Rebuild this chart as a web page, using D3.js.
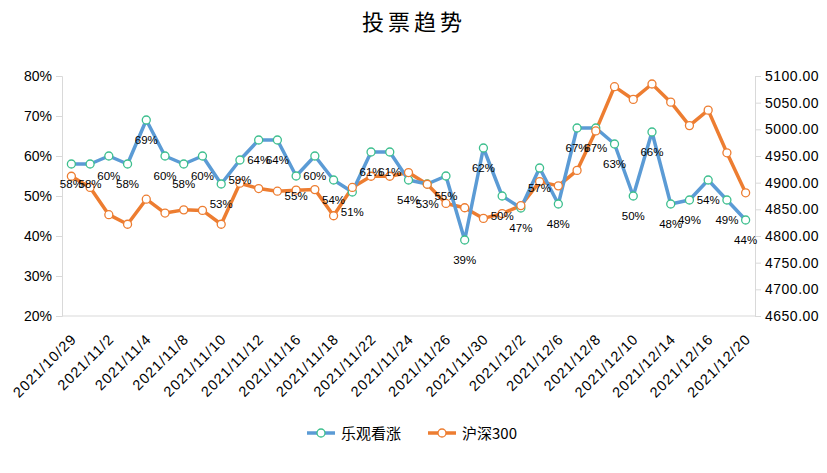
<!DOCTYPE html>
<html>
<head>
<meta charset="utf-8">
<script src="https://cdn.jsdelivr.net/npm/d3@7"></script>
<style>
  body { margin: 0; background: #fff; }
  svg { display: block; }
</style>
</head>
<body>
<svg id="chart" width="827" height="473"></svg>
<script>
const dates = ["2021/10/29","2021/11/1","2021/11/2","2021/11/3","2021/11/4","2021/11/5","2021/11/8","2021/11/9","2021/11/10","2021/11/11","2021/11/12","2021/11/15","2021/11/16","2021/11/17","2021/11/18","2021/11/19","2021/11/22","2021/11/23","2021/11/24","2021/11/25","2021/11/26","2021/11/29","2021/11/30","2021/12/1","2021/12/2","2021/12/3","2021/12/6","2021/12/7","2021/12/8","2021/12/9","2021/12/10","2021/12/13","2021/12/14","2021/12/15","2021/12/16","2021/12/17","2021/12/20"];
const bullish = [58,58,60,58,69,60,58,60,53,59,64,64,55,60,54,51,61,61,54,53,55,39,62,50,47,57,48,67,67,63,50,66,48,49,54,49,44];
const hs300 = [4912,4891,4840,4822,4869,4843,4849,4848,4822,4899,4889,4884,4886,4887,4838,4891,4912,4912,4919,4897,4861,4853,4833,4842,4857,4902,4894,4923,4997,5080,5056,5085,5051,5007,5036,4956,4881];
const leftTicks = [20,30,40,50,60,70,80];
const rightTicks = [4650,4700,4750,4800,4850,4900,4950,5000,5050,5100];
const seriesNames = ["乐观看涨","沪深300"];

const svg = d3.select("#chart");
const L = 62, R = 755, T = 76, B = 316;
const blue = "#5b9bd5", orange = "#ed7d31", teal = "#3dbf8e", axisCol = "#d9d9d9";

const x = d3.scaleBand().domain(dates).range([L, R]);
const xc = d => x(d) + x.bandwidth() / 2;
const yL = d3.scaleLinear().domain([20, 80]).range([B, T]);
const yR = d3.scaleLinear().domain([4650, 5100]).range([B, T]);

// title
svg.append("text").attr("x", 414).attr("y", 30).attr("text-anchor", "middle")
  .attr("font-family", "'Noto Sans CJK SC'").attr("font-size", 22).attr("letter-spacing", 4)
  .attr("fill", "#000").text("投票趋势");

// left axis
const gl = svg.append("g").attr("transform", `translate(${L},0)`)
  .call(d3.axisLeft(yL).tickValues(leftTicks).tickFormat(d => d + "%").tickSize(6).tickPadding(4));
gl.select(".domain").attr("stroke", axisCol);
gl.selectAll(".tick line").attr("stroke", axisCol);
gl.selectAll("text").attr("font-family", "Arial, 'Liberation Sans'").attr("font-size", 14).attr("fill", "#000");

// right axis
const gr = svg.append("g").attr("transform", `translate(${R},0)`)
  .call(d3.axisRight(yR).tickValues(rightTicks).tickFormat(d3.format(".2f")).tickSize(6).tickPadding(4));
gr.select(".domain").attr("stroke", axisCol);
gr.selectAll(".tick line").attr("stroke", axisCol);
gr.selectAll("text").attr("font-family", "Arial, 'Liberation Sans'").attr("font-size", 14).attr("fill", "#000").attr("letter-spacing", 0.5);

// bottom axis
const gb = svg.append("g").attr("transform", `translate(0,${B})`)
  .call(d3.axisBottom(x).tickValues(dates.filter((d, i) => i % 2 === 0)).tickSize(0).tickPadding(0));
gb.select(".domain").attr("stroke", axisCol).attr("d", `M${L},0H${R}`);
gb.selectAll(".tick text")
  .attr("font-family", "Arial, 'Liberation Sans'").attr("font-size", 14.5).attr("fill", "#000")
  .attr("text-anchor", "end").attr("dy", 0).attr("y", 0)
  .attr("transform", "translate(6,24) rotate(-45)")
  .attr("letter-spacing", 1);

// lines
const lineB = d3.line().x((d, i) => xc(dates[i])).y(d => yL(d));
const lineO = d3.line().x((d, i) => xc(dates[i])).y(d => yR(d));

svg.append("path").datum(hs300).attr("d", lineO).attr("fill", "none")
  .attr("stroke", orange).attr("stroke-width", 3.5).attr("stroke-linejoin", "round");
svg.append("path").datum(bullish).attr("d", lineB).attr("fill", "none")
  .attr("stroke", blue).attr("stroke-width", 3.5).attr("stroke-linejoin", "round");

svg.append("g").selectAll("circle").data(bullish).join("circle")
  .attr("cx", (d, i) => xc(dates[i])).attr("cy", d => yL(d)).attr("r", 4)
  .attr("fill", "#fff").attr("stroke", teal).attr("stroke-width", 1.3);
svg.append("g").selectAll("circle").data(hs300).join("circle")
  .attr("cx", (d, i) => xc(dates[i])).attr("cy", d => yR(d)).attr("r", 4)
  .attr("fill", "#fff").attr("stroke", orange).attr("stroke-width", 1.3);

// data labels
svg.append("g").selectAll("text").data(bullish).join("text")
  .attr("x", (d, i) => xc(dates[i])).attr("y", d => yL(d) + 24)
  .attr("text-anchor", "middle").attr("font-family", "Arial, 'Liberation Sans'")
  .attr("font-size", 11.5).attr("fill", "#000").text(d => d + "%");

// legend
const lg = svg.append("g");
const items = [{name: seriesNames[0], c: blue, m: teal, x: 307}, {name: seriesNames[1], c: orange, m: orange, x: 428}];
items.forEach(it => {
  lg.append("line").attr("x1", it.x).attr("x2", it.x + 28).attr("y1", 433).attr("y2", 433)
    .attr("stroke", it.c).attr("stroke-width", 3.5);
  lg.append("circle").attr("cx", it.x + 14).attr("cy", 433).attr("r", 4)
    .attr("fill", "#fff").attr("stroke", it.m).attr("stroke-width", 1.3);
  lg.append("text").attr("x", it.x + 34).attr("y", 439)
    .attr("font-family", "'Noto Sans CJK SC'").attr("font-size", 15).attr("fill", "#000")
    .text(it.name);
});
</script>
</body>
</html>
